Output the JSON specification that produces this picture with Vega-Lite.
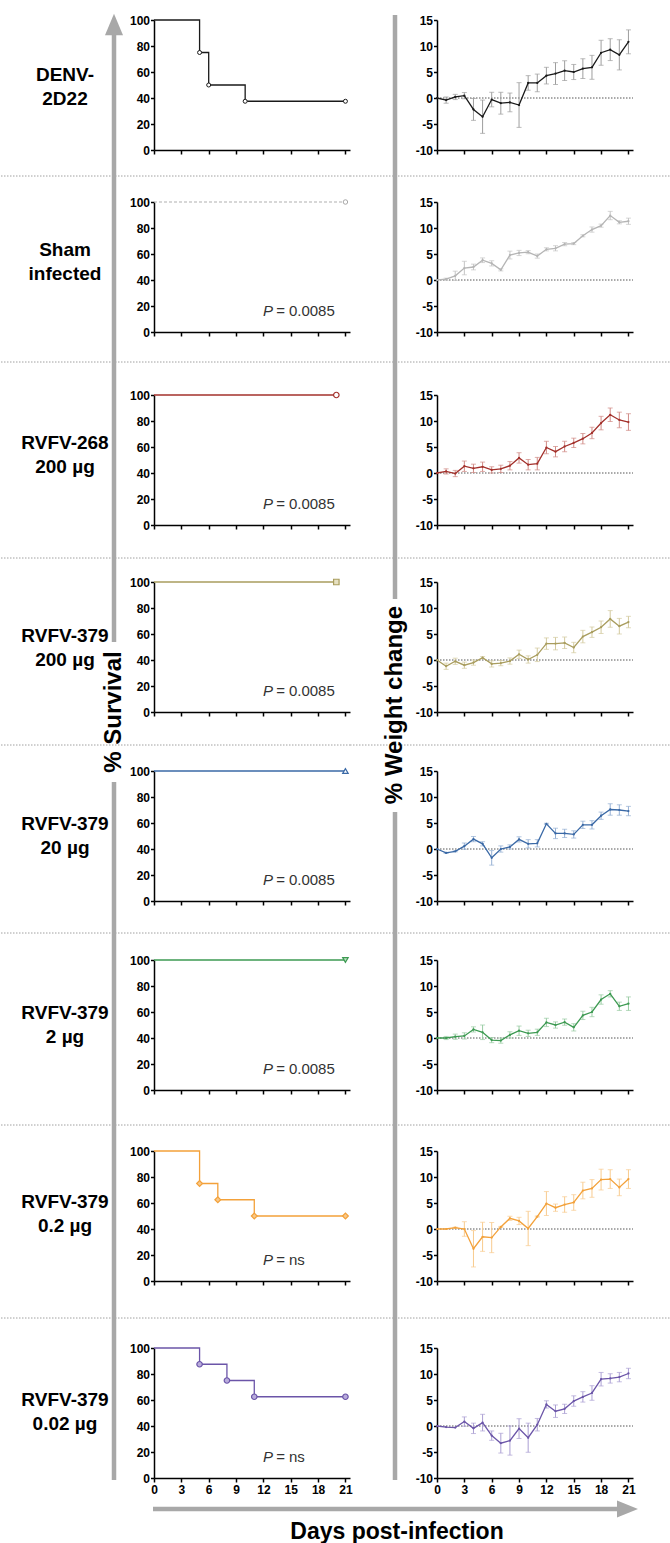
{
"$schema": "https://vega.github.io/schema/vega-lite/v6.json",
"background": "white",
"padding": {"top": 12, "left": 0, "right": 0, "bottom": 0},
"autosize": {"type": "pad"},
"bounds": "flush",
"spacing": 0,
"columns": 4,
"config": {
  "view": {"stroke": null},
  "font": "Liberation Sans",
  "axis": {"domainColor": "#000", "domainWidth": 1.5, "tickColor": "#000", "tickWidth": 1.5, "tickSize": 3.5, "labelFont": "Liberation Sans", "labelFontSize": 12, "labelFontWeight": "bold", "labelColor": "#000", "grid": false, "labelPadding": 1, "labelOverlap": false, "labelFlush": false, "labelBound": false, "tickCount": 30}
},
"datasets": {
  "labels": [{"g":1,"label":"DENV-\n2D22"},{"g":2,"label":"Sham\ninfected"},{"g":3,"label":"RVFV-268\n200 µg"},{"g":4,"label":"RVFV-379\n200 µg"},{"g":5,"label":"RVFV-379\n20 µg"},{"g":6,"label":"RVFV-379\n2 µg"},{"g":7,"label":"RVFV-379\n0.2 µg"},{"g":8,"label":"RVFV-379\n0.02 µg"}],
  "pvals": [{"g":2,"p":"0.0085"},{"g":3,"p":"0.0085"},{"g":4,"p":"0.0085"},{"g":5,"p":"0.0085"},{"g":6,"p":"0.0085"},{"g":7,"p":"ns"},{"g":8,"p":"ns"}],
  "survival": [
    {"g":1,"day":0,"pct":100},{"g":1,"day":5,"pct":75},{"g":1,"day":6,"pct":50},{"g":1,"day":10,"pct":37.5},{"g":1,"day":21,"pct":37.5},
    {"g":2,"day":0,"pct":100},{"g":2,"day":21,"pct":100},
    {"g":3,"day":0,"pct":100},{"g":3,"day":20,"pct":100},
    {"g":4,"day":0,"pct":100},{"g":4,"day":20,"pct":100},
    {"g":5,"day":0,"pct":100},{"g":5,"day":21,"pct":100},
    {"g":6,"day":0,"pct":100},{"g":6,"day":21,"pct":100},
    {"g":7,"day":0,"pct":100},{"g":7,"day":5,"pct":75},{"g":7,"day":7,"pct":62.5},{"g":7,"day":11,"pct":50},{"g":7,"day":21,"pct":50},
    {"g":8,"day":0,"pct":100},{"g":8,"day":5,"pct":87.5},{"g":8,"day":8,"pct":75},{"g":8,"day":11,"pct":62.5},{"g":8,"day":21,"pct":62.5}
  ],
  "weight": [
    {"g":1,"day":0,"mean":0,"sem":0},{"g":1,"day":1,"mean":-0.4,"sem":0.6},{"g":1,"day":2,"mean":0.2,"sem":0.5},{"g":1,"day":3,"mean":0.45,"sem":0.6},{"g":1,"day":4,"mean":-2.2,"sem":2.1},{"g":1,"day":5,"mean":-3.6,"sem":3.2},{"g":1,"day":6,"mean":-0.3,"sem":1.4},{"g":1,"day":7,"mean":-1.0,"sem":2.1},{"g":1,"day":8,"mean":-0.85,"sem":1.8},{"g":1,"day":9,"mean":-1.35,"sem":4.3},{"g":1,"day":10,"mean":2.9,"sem":1.4},{"g":1,"day":11,"mean":2.9,"sem":1.7},{"g":1,"day":12,"mean":4.3,"sem":1.6},{"g":1,"day":13,"mean":4.7,"sem":2.1},{"g":1,"day":14,"mean":5.25,"sem":1.9},{"g":1,"day":15,"mean":5.0,"sem":1.45},{"g":1,"day":16,"mean":5.65,"sem":1.9},{"g":1,"day":17,"mean":5.9,"sem":2.3},{"g":1,"day":18,"mean":8.7,"sem":2.4},{"g":1,"day":19,"mean":9.3,"sem":2.1},{"g":1,"day":20,"mean":8.3,"sem":2.9},{"g":1,"day":21,"mean":10.8,"sem":2.3},
    {"g":2,"day":0,"mean":0,"sem":0},{"g":2,"day":1,"mean":0.15,"sem":0.2},{"g":2,"day":2,"mean":0.8,"sem":0.9},{"g":2,"day":3,"mean":2.3,"sem":1.3},{"g":2,"day":4,"mean":2.5,"sem":0.55},{"g":2,"day":5,"mean":3.8,"sem":0.45},{"g":2,"day":6,"mean":3.2,"sem":0.5},{"g":2,"day":7,"mean":1.95,"sem":0.2},{"g":2,"day":8,"mean":4.8,"sem":0.75},{"g":2,"day":9,"mean":5.2,"sem":0.5},{"g":2,"day":10,"mean":5.35,"sem":0.3},{"g":2,"day":11,"mean":4.6,"sem":0.4},{"g":2,"day":12,"mean":5.9,"sem":0.3},{"g":2,"day":13,"mean":6.1,"sem":0.5},{"g":2,"day":14,"mean":6.9,"sem":0.3},{"g":2,"day":15,"mean":7.0,"sem":0.2},{"g":2,"day":16,"mean":8.5,"sem":0.2},{"g":2,"day":17,"mean":9.7,"sem":0.5},{"g":2,"day":18,"mean":10.45,"sem":0.3},{"g":2,"day":19,"mean":12.4,"sem":0.8},{"g":2,"day":20,"mean":11.1,"sem":0.3},{"g":2,"day":21,"mean":11.3,"sem":0.6},
    {"g":3,"day":0,"mean":0,"sem":0},{"g":3,"day":1,"mean":0.3,"sem":0.5},{"g":3,"day":2,"mean":-0.1,"sem":0.6},{"g":3,"day":3,"mean":1.3,"sem":1.0},{"g":3,"day":4,"mean":0.9,"sem":0.8},{"g":3,"day":5,"mean":1.2,"sem":0.9},{"g":3,"day":6,"mean":0.6,"sem":0.6},{"g":3,"day":7,"mean":0.8,"sem":0.7},{"g":3,"day":8,"mean":1.4,"sem":0.8},{"g":3,"day":9,"mean":2.9,"sem":1.0},{"g":3,"day":10,"mean":1.6,"sem":1.0},{"g":3,"day":11,"mean":1.8,"sem":1.2},{"g":3,"day":12,"mean":4.9,"sem":1.2},{"g":3,"day":13,"mean":4.1,"sem":1.0},{"g":3,"day":14,"mean":5.1,"sem":1.0},{"g":3,"day":15,"mean":5.8,"sem":0.9},{"g":3,"day":16,"mean":6.6,"sem":1.0},{"g":3,"day":17,"mean":7.7,"sem":1.1},{"g":3,"day":18,"mean":9.6,"sem":1.3},{"g":3,"day":19,"mean":11.2,"sem":1.3},{"g":3,"day":20,"mean":10.2,"sem":1.5},{"g":3,"day":21,"mean":9.8,"sem":1.6},
    {"g":4,"day":0,"mean":0,"sem":0},{"g":4,"day":1,"mean":-1.2,"sem":0.6},{"g":4,"day":2,"mean":-0.25,"sem":0.6},{"g":4,"day":3,"mean":-1.0,"sem":0.6},{"g":4,"day":4,"mean":-0.5,"sem":0.5},{"g":4,"day":5,"mean":0.45,"sem":0.2},{"g":4,"day":6,"mean":-0.75,"sem":0.6},{"g":4,"day":7,"mean":-0.6,"sem":0.5},{"g":4,"day":8,"mean":-0.2,"sem":0.6},{"g":4,"day":9,"mean":1.1,"sem":0.8},{"g":4,"day":10,"mean":0.1,"sem":0.7},{"g":4,"day":11,"mean":1.0,"sem":1.3},{"g":4,"day":12,"mean":3.15,"sem":1.1},{"g":4,"day":13,"mean":3.15,"sem":1.2},{"g":4,"day":14,"mean":3.3,"sem":1.1},{"g":4,"day":15,"mean":2.4,"sem":1.0},{"g":4,"day":16,"mean":4.5,"sem":1.2},{"g":4,"day":17,"mean":5.35,"sem":1.0},{"g":4,"day":18,"mean":6.3,"sem":1.2},{"g":4,"day":19,"mean":7.9,"sem":1.6},{"g":4,"day":20,"mean":6.5,"sem":1.5},{"g":4,"day":21,"mean":7.3,"sem":1.1},
    {"g":5,"day":0,"mean":0,"sem":0},{"g":5,"day":1,"mean":-0.75,"sem":0.1},{"g":5,"day":2,"mean":-0.45,"sem":0.1},{"g":5,"day":3,"mean":0.55,"sem":0.6},{"g":5,"day":4,"mean":1.9,"sem":0.5},{"g":5,"day":5,"mean":1.0,"sem":0.4},{"g":5,"day":6,"mean":-1.7,"sem":1.4},{"g":5,"day":7,"mean":0.0,"sem":0.6},{"g":5,"day":8,"mean":0.4,"sem":0.4},{"g":5,"day":9,"mean":1.85,"sem":0.5},{"g":5,"day":10,"mean":1.0,"sem":0.8},{"g":5,"day":11,"mean":1.1,"sem":0.7},{"g":5,"day":12,"mean":4.85,"sem":0.1},{"g":5,"day":13,"mean":3.0,"sem":1.0},{"g":5,"day":14,"mean":3.0,"sem":0.8},{"g":5,"day":15,"mean":2.8,"sem":0.7},{"g":5,"day":16,"mean":4.65,"sem":0.7},{"g":5,"day":17,"mean":4.65,"sem":0.8},{"g":5,"day":18,"mean":6.4,"sem":0.7},{"g":5,"day":19,"mean":7.6,"sem":1.1},{"g":5,"day":20,"mean":7.5,"sem":1.0},{"g":5,"day":21,"mean":7.3,"sem":0.9},
    {"g":6,"day":0,"mean":0,"sem":0},{"g":6,"day":1,"mean":0,"sem":0.3},{"g":6,"day":2,"mean":0.25,"sem":0.5},{"g":6,"day":3,"mean":0.4,"sem":0.6},{"g":6,"day":4,"mean":1.65,"sem":0.5},{"g":6,"day":5,"mean":1.1,"sem":1.4},{"g":6,"day":6,"mean":-0.4,"sem":0.5},{"g":6,"day":7,"mean":-0.5,"sem":0.5},{"g":6,"day":8,"mean":0.6,"sem":0.6},{"g":6,"day":9,"mean":1.4,"sem":0.9},{"g":6,"day":10,"mean":0.9,"sem":0.6},{"g":6,"day":11,"mean":1.1,"sem":0.6},{"g":6,"day":12,"mean":3.0,"sem":0.8},{"g":6,"day":13,"mean":2.5,"sem":0.6},{"g":6,"day":14,"mean":3.05,"sem":0.6},{"g":6,"day":15,"mean":2.05,"sem":0.7},{"g":6,"day":16,"mean":4.35,"sem":0.8},{"g":6,"day":17,"mean":5.0,"sem":0.9},{"g":6,"day":18,"mean":7.4,"sem":0.9},{"g":6,"day":19,"mean":8.5,"sem":0.6},{"g":6,"day":20,"mean":6.1,"sem":0.8},{"g":6,"day":21,"mean":6.6,"sem":1.3},
    {"g":7,"day":0,"mean":0,"sem":0},{"g":7,"day":1,"mean":0,"sem":0},{"g":7,"day":2,"mean":0.25,"sem":0.1},{"g":7,"day":3,"mean":0.0,"sem":1.4},{"g":7,"day":4,"mean":-3.8,"sem":3.5},{"g":7,"day":5,"mean":-1.5,"sem":2.8},{"g":7,"day":6,"mean":-1.65,"sem":2.9},{"g":7,"day":7,"mean":0.4,"sem":0.1},{"g":7,"day":8,"mean":2.05,"sem":0.4},{"g":7,"day":9,"mean":1.55,"sem":0.7},{"g":7,"day":10,"mean":0.1,"sem":3.3},{"g":7,"day":11,"mean":2.4,"sem":0.1},{"g":7,"day":12,"mean":4.9,"sem":2.3},{"g":7,"day":13,"mean":4.1,"sem":0.7},{"g":7,"day":14,"mean":4.7,"sem":1.5},{"g":7,"day":15,"mean":5.1,"sem":1.5},{"g":7,"day":16,"mean":7.4,"sem":1.6},{"g":7,"day":17,"mean":7.8,"sem":1.7},{"g":7,"day":18,"mean":9.5,"sem":2.0},{"g":7,"day":19,"mean":9.6,"sem":1.8},{"g":7,"day":20,"mean":8.0,"sem":1.6},{"g":7,"day":21,"mean":9.6,"sem":1.8},
    {"g":8,"day":0,"mean":0,"sem":0},{"g":8,"day":1,"mean":-0.2,"sem":0},{"g":8,"day":2,"mean":-0.3,"sem":0},{"g":8,"day":3,"mean":0.85,"sem":0.9},{"g":8,"day":4,"mean":-0.45,"sem":1.0},{"g":8,"day":5,"mean":0.65,"sem":1.6},{"g":8,"day":6,"mean":-1.85,"sem":0.9},{"g":8,"day":7,"mean":-3.3,"sem":1.9},{"g":8,"day":8,"mean":-2.8,"sem":2.8},{"g":8,"day":9,"mean":-0.5,"sem":1.9},{"g":8,"day":10,"mean":-2.25,"sem":2.8},{"g":8,"day":11,"mean":0.25,"sem":1.2},{"g":8,"day":12,"mean":4.15,"sem":0.7},{"g":8,"day":13,"mean":2.85,"sem":1.2},{"g":8,"day":14,"mean":3.3,"sem":0.9},{"g":8,"day":15,"mean":4.8,"sem":1.0},{"g":8,"day":16,"mean":5.6,"sem":1.0},{"g":8,"day":17,"mean":6.35,"sem":1.4},{"g":8,"day":18,"mean":9.0,"sem":1.3},{"g":8,"day":19,"mean":9.15,"sem":0.9},{"g":8,"day":20,"mean":9.4,"sem":0.9},{"g":8,"day":21,"mean":10.1,"sem":1.0}
  ]
},
"concat": [
{"width":153,"height":182,"layer":[
 {"data":{"values":[{}]},"mark":{"type":"rule","color":"#a0a0a0","strokeWidth":1,"strokeDash":[1.5,1.5]},"encoding":{"x":{"datum":0,"type":"quantitative","scale":{"domain":[0,153]},"axis":null},"x2":{"datum":349},"y":{"datum":156,"type":"quantitative","scale":{"domain":[0,182],"reverse":true},"axis":null}}},
 {"data":{"values":[{}]},"mark":{"type":"rule","color":"#a8a8a8","strokeWidth":4.5},"encoding":{"x":{"datum":113,"type":"quantitative","scale":{"domain":[0,153]},"axis":null},"y":{"datum":10,"type":"quantitative","scale":{"domain":[0,182],"reverse":true},"axis":null},"y2":{"datum":182}}},
 {"data":{"values":[{}]},"mark":{"type":"point","shape":"M0,-1L0.84,1L-0.84,1Z","size":462,"filled":true,"color":"#a8a8a8","opacity":1,"strokeWidth":0},"encoding":{"x":{"datum":113,"type":"quantitative","scale":{"domain":[0,153]},"axis":null},"y":{"datum":4.5,"type":"quantitative","scale":{"domain":[0,182],"reverse":true},"axis":null}}},
 {"data":{"name":"labels"},"transform":[{"filter":"datum.g == 1"}],"mark":{"type":"text","fontSize":19,"fontWeight":"bold","lineBreak":"\n","lineHeight":24,"align":"center","baseline":"middle","color":"#000"},"encoding":{"x":{"datum":64,"type":"quantitative","scale":{"domain":[0,153]},"axis":null},"y":{"datum":55,"type":"quantitative","scale":{"domain":[0,182],"reverse":true},"axis":null},"text":{"field":"label","type":"nominal"}}}
]},
{"width":196,"height":130,"layer":[
 {"data":{"name":"survival"},"transform":[{"filter":"datum.g == 1"}],"mark":{"type":"line","interpolate":"step-after","color":"#1a1a1a","strokeWidth":1.3},"encoding":{"x":{"field":"day","type":"quantitative","scale":{"domain":[0,21.5]},"axis":{"title":null,"values":[0,3,6,9,12,15,18,21],"tickCount":30,"labels":false,"tickSize":4,"labelOverlap":false}},"y":{"field":"pct","type":"quantitative","scale":{"domain":[0,100]},"axis":{"title":null,"values":[0,20,40,60,80,100],"tickCount":30,"labelOverlap":false}}}},
 {"data":{"name":"survival"},"transform":[{"filter":"datum.g == 1 && datum.day > 0"}],"mark":{"type":"point","shape":"circle","filled":true,"fill":"#ffffff","stroke":"#1a1a1a","strokeWidth":1,"size":16,"opacity":1},"encoding":{"x":{"field":"day","type":"quantitative","title":null,"scale":{"domain":[0,21.5]}},"y":{"field":"pct","type":"quantitative","title":null,"scale":{"domain":[0,100]}}}}
]},
{"width":87,"height":182,"layer":[
 {"data":{"values":[{}]},"mark":{"type":"rule","color":"#a0a0a0","strokeWidth":1,"strokeDash":[1.5,1.5]},"encoding":{"x":{"datum":0,"type":"quantitative","scale":{"domain":[0,87]},"axis":null},"x2":{"datum":321},"y":{"datum":156,"type":"quantitative","scale":{"domain":[0,182],"reverse":true},"axis":null}}},
 {"data":{"values":[{}]},"mark":{"type":"rule","color":"#a8a8a8","strokeWidth":4.5},"encoding":{"x":{"datum":45,"type":"quantitative","scale":{"domain":[0,87]},"axis":null},"y":{"datum":-5,"type":"quantitative","scale":{"domain":[0,182],"reverse":true},"axis":null},"y2":{"datum":182}}}
]},
{"width":196,"height":130,"layer":[
 {"data":{"values":[{}]},"mark":{"type":"rule","color":"#555555","strokeWidth":1,"strokeDash":[1.5,1.5]},"encoding":{"x":{"datum":0,"type":"quantitative","scale":{"domain":[0,21.5]},"axis":{"title":null,"values":[0,3,6,9,12,15,18,21],"tickCount":30,"labels":false,"tickSize":4,"labelOverlap":false}},"x2":{"datum":21.5},"y":{"datum":0,"type":"quantitative","scale":{"domain":[-10,15]},"axis":{"title":null,"values":[-10,-5,0,5,10,15],"tickCount":30,"labelExpr":"'' + datum.value","labelOverlap":false}}}},
 {"data":{"name":"weight"},"transform":[{"filter":"datum.g == 1 && datum.sem > 0"}],"mark":{"type":"errorbar","color":"#9e9e9e","thickness":1,"ticks":{"size":5,"color":"#9e9e9e"}},"encoding":{"x":{"field":"day","type":"quantitative","title":null,"scale":{"domain":[0,21.5]}},"y":{"field":"mean","type":"quantitative","title":null,"scale":{"domain":[-10,15]}},"yError":{"field":"sem"}}},
 {"data":{"name":"weight"},"transform":[{"filter":"datum.g == 1"}],"mark":{"type":"line","color":"#1a1a1a","strokeWidth":1.3,"point":{"filled":true,"size":5,"color":"#1a1a1a","opacity":1}},"encoding":{"x":{"field":"day","type":"quantitative","title":null,"scale":{"domain":[0,21.5]}},"y":{"field":"mean","type":"quantitative","title":null,"scale":{"domain":[-10,15]}}}}
]},

{"width":153,"height":193,"layer":[
 {"data":{"values":[{}]},"mark":{"type":"rule","color":"#a0a0a0","strokeWidth":1,"strokeDash":[1.5,1.5]},"encoding":{"x":{"datum":0,"type":"quantitative","scale":{"domain":[0,153]},"axis":null},"x2":{"datum":349},"y":{"datum":160,"type":"quantitative","scale":{"domain":[0,193],"reverse":true},"axis":null}}},
 {"data":{"values":[{}]},"mark":{"type":"rule","color":"#a8a8a8","strokeWidth":4.5},"encoding":{"x":{"datum":113,"type":"quantitative","scale":{"domain":[0,153]},"axis":null},"y":{"datum":0,"type":"quantitative","scale":{"domain":[0,193],"reverse":true},"axis":null},"y2":{"datum":193}}},
 {"data":{"name":"labels"},"transform":[{"filter":"datum.g == 2"}],"mark":{"type":"text","fontSize":19,"fontWeight":"bold","lineBreak":"\n","lineHeight":24,"align":"center","baseline":"middle","color":"#000"},"encoding":{"x":{"datum":64,"type":"quantitative","scale":{"domain":[0,153]},"axis":null},"y":{"datum":48,"type":"quantitative","scale":{"domain":[0,193],"reverse":true},"axis":null},"text":{"field":"label","type":"nominal"}}}
]},
{"width":196,"height":130,"layer":[
 {"data":{"name":"survival"},"transform":[{"filter":"datum.g == 2"}],"mark":{"type":"line","interpolate":"step-after","color":"#b0b0b0","strokeWidth":1.2,"strokeDash":[3,2]},"encoding":{"x":{"field":"day","type":"quantitative","scale":{"domain":[0,21.5]},"axis":{"title":null,"values":[0,3,6,9,12,15,18,21],"tickCount":30,"labels":false,"tickSize":4,"labelOverlap":false}},"y":{"field":"pct","type":"quantitative","scale":{"domain":[0,100]},"axis":{"title":null,"values":[0,20,40,60,80,100],"tickCount":30,"labelOverlap":false}}}},
 {"data":{"name":"survival"},"transform":[{"filter":"datum.g == 2 && datum.day > 0"}],"mark":{"type":"point","shape":"circle","filled":true,"fill":"#ffffff","stroke":"#a8a8a8","strokeWidth":1,"size":20,"opacity":1},"encoding":{"x":{"field":"day","type":"quantitative","title":null,"scale":{"domain":[0,21.5]}},"y":{"field":"pct","type":"quantitative","title":null,"scale":{"domain":[0,100]}}}},
 {"data":{"name":"pvals"},"transform":[{"filter":"datum.g == 2"}],"mark":{"type":"text","text":"P","fontStyle":"italic","fontSize":15,"align":"right","baseline":"middle","color":"#333333"},"encoding":{"x":{"datum":13.05,"type":"quantitative","scale":{"domain":[0,21.5]}},"y":{"datum":16,"type":"quantitative","scale":{"domain":[0,100]}}}},
 {"data":{"name":"pvals"},"transform":[{"filter":"datum.g == 2"}],"mark":{"type":"text","text":"=","fontSize":15,"align":"left","baseline":"middle","color":"#333333"},"encoding":{"x":{"datum":13.4,"type":"quantitative","scale":{"domain":[0,21.5]}},"y":{"datum":16,"type":"quantitative","scale":{"domain":[0,100]}}}},
 {"data":{"name":"pvals"},"transform":[{"filter":"datum.g == 2"}],"mark":{"type":"text","fontSize":15,"align":"left","baseline":"middle","color":"#333333"},"encoding":{"x":{"datum":14.8,"type":"quantitative","scale":{"domain":[0,21.5]}},"y":{"datum":16,"type":"quantitative","scale":{"domain":[0,100]}},"text":{"field":"p","type":"nominal"}}}
]},
{"width":87,"height":193,"layer":[
 {"data":{"values":[{}]},"mark":{"type":"rule","color":"#a0a0a0","strokeWidth":1,"strokeDash":[1.5,1.5]},"encoding":{"x":{"datum":0,"type":"quantitative","scale":{"domain":[0,87]},"axis":null},"x2":{"datum":321},"y":{"datum":160,"type":"quantitative","scale":{"domain":[0,193],"reverse":true},"axis":null}}},
 {"data":{"values":[{}]},"mark":{"type":"rule","color":"#a8a8a8","strokeWidth":4.5},"encoding":{"x":{"datum":45,"type":"quantitative","scale":{"domain":[0,87]},"axis":null},"y":{"datum":0,"type":"quantitative","scale":{"domain":[0,193],"reverse":true},"axis":null},"y2":{"datum":193}}}
]},
{"width":196,"height":130,"layer":[
 {"data":{"values":[{}]},"mark":{"type":"rule","color":"#555555","strokeWidth":1,"strokeDash":[1.5,1.5]},"encoding":{"x":{"datum":0,"type":"quantitative","scale":{"domain":[0,21.5]},"axis":{"title":null,"values":[0,3,6,9,12,15,18,21],"tickCount":30,"labels":false,"tickSize":4,"labelOverlap":false}},"x2":{"datum":21.5},"y":{"datum":0,"type":"quantitative","scale":{"domain":[-10,15]},"axis":{"title":null,"values":[-10,-5,0,5,10,15],"tickCount":30,"labelExpr":"'' + datum.value","labelOverlap":false}}}},
 {"data":{"name":"weight"},"transform":[{"filter":"datum.g == 2 && datum.sem > 0"}],"mark":{"type":"errorbar","color":"#c4c4c4","thickness":1,"ticks":{"size":5,"color":"#c4c4c4"}},"encoding":{"x":{"field":"day","type":"quantitative","title":null,"scale":{"domain":[0,21.5]}},"y":{"field":"mean","type":"quantitative","title":null,"scale":{"domain":[-10,15]}},"yError":{"field":"sem"}}},
 {"data":{"name":"weight"},"transform":[{"filter":"datum.g == 2"}],"mark":{"type":"line","color":"#b5b5b5","strokeWidth":1.3,"point":{"filled":true,"size":5,"color":"#b5b5b5","opacity":1}},"encoding":{"x":{"field":"day","type":"quantitative","title":null,"scale":{"domain":[0,21.5]}},"y":{"field":"mean","type":"quantitative","title":null,"scale":{"domain":[-10,15]}}}}
]},

{"width":153,"height":187,"layer":[
 {"data":{"values":[{}]},"mark":{"type":"rule","color":"#a0a0a0","strokeWidth":1,"strokeDash":[1.5,1.5]},"encoding":{"x":{"datum":0,"type":"quantitative","scale":{"domain":[0,153]},"axis":null},"x2":{"datum":349},"y":{"datum":163,"type":"quantitative","scale":{"domain":[0,187],"reverse":true},"axis":null}}},
 {"data":{"values":[{}]},"mark":{"type":"rule","color":"#a8a8a8","strokeWidth":4.5},"encoding":{"x":{"datum":113,"type":"quantitative","scale":{"domain":[0,153]},"axis":null},"y":{"datum":0,"type":"quantitative","scale":{"domain":[0,187],"reverse":true},"axis":null},"y2":{"datum":187}}},
 {"data":{"name":"labels"},"transform":[{"filter":"datum.g == 3"}],"mark":{"type":"text","fontSize":19,"fontWeight":"bold","lineBreak":"\n","lineHeight":24,"align":"center","baseline":"middle","color":"#000"},"encoding":{"x":{"datum":64,"type":"quantitative","scale":{"domain":[0,153]},"axis":null},"y":{"datum":48,"type":"quantitative","scale":{"domain":[0,187],"reverse":true},"axis":null},"text":{"field":"label","type":"nominal"}}}
]},
{"width":196,"height":130,"layer":[
 {"data":{"name":"survival"},"transform":[{"filter":"datum.g == 3"}],"mark":{"type":"line","interpolate":"step-after","color":"#a3302b","strokeWidth":1.3},"encoding":{"x":{"field":"day","type":"quantitative","scale":{"domain":[0,21.5]},"axis":{"title":null,"values":[0,3,6,9,12,15,18,21],"tickCount":30,"labels":false,"tickSize":4,"labelOverlap":false}},"y":{"field":"pct","type":"quantitative","scale":{"domain":[0,100]},"axis":{"title":null,"values":[0,20,40,60,80,100],"tickCount":30,"labelOverlap":false}}}},
 {"data":{"name":"survival"},"transform":[{"filter":"datum.g == 3 && datum.day > 0"}],"mark":{"type":"point","shape":"circle","filled":true,"fill":"#ffffff","stroke":"#a3302b","strokeWidth":1.2,"size":30,"opacity":1},"encoding":{"x":{"field":"day","type":"quantitative","title":null,"scale":{"domain":[0,21.5]}},"y":{"field":"pct","type":"quantitative","title":null,"scale":{"domain":[0,100]}}}},
 {"data":{"name":"pvals"},"transform":[{"filter":"datum.g == 3"}],"mark":{"type":"text","text":"P","fontStyle":"italic","fontSize":15,"align":"right","baseline":"middle","color":"#333333"},"encoding":{"x":{"datum":13.05,"type":"quantitative","scale":{"domain":[0,21.5]}},"y":{"datum":16,"type":"quantitative","scale":{"domain":[0,100]}}}},
 {"data":{"name":"pvals"},"transform":[{"filter":"datum.g == 3"}],"mark":{"type":"text","text":"=","fontSize":15,"align":"left","baseline":"middle","color":"#333333"},"encoding":{"x":{"datum":13.4,"type":"quantitative","scale":{"domain":[0,21.5]}},"y":{"datum":16,"type":"quantitative","scale":{"domain":[0,100]}}}},
 {"data":{"name":"pvals"},"transform":[{"filter":"datum.g == 3"}],"mark":{"type":"text","fontSize":15,"align":"left","baseline":"middle","color":"#333333"},"encoding":{"x":{"datum":14.8,"type":"quantitative","scale":{"domain":[0,21.5]}},"y":{"datum":16,"type":"quantitative","scale":{"domain":[0,100]}},"text":{"field":"p","type":"nominal"}}}
]},
{"width":87,"height":187,"layer":[
 {"data":{"values":[{}]},"mark":{"type":"rule","color":"#a0a0a0","strokeWidth":1,"strokeDash":[1.5,1.5]},"encoding":{"x":{"datum":0,"type":"quantitative","scale":{"domain":[0,87]},"axis":null},"x2":{"datum":321},"y":{"datum":163,"type":"quantitative","scale":{"domain":[0,187],"reverse":true},"axis":null}}},
 {"data":{"values":[{}]},"mark":{"type":"rule","color":"#a8a8a8","strokeWidth":4.5},"encoding":{"x":{"datum":45,"type":"quantitative","scale":{"domain":[0,87]},"axis":null},"y":{"datum":0,"type":"quantitative","scale":{"domain":[0,187],"reverse":true},"axis":null},"y2":{"datum":187}}}
]},
{"width":196,"height":130,"layer":[
 {"data":{"values":[{}]},"mark":{"type":"rule","color":"#555555","strokeWidth":1,"strokeDash":[1.5,1.5]},"encoding":{"x":{"datum":0,"type":"quantitative","scale":{"domain":[0,21.5]},"axis":{"title":null,"values":[0,3,6,9,12,15,18,21],"tickCount":30,"labels":false,"tickSize":4,"labelOverlap":false}},"x2":{"datum":21.5},"y":{"datum":0,"type":"quantitative","scale":{"domain":[-10,15]},"axis":{"title":null,"values":[-10,-5,0,5,10,15],"tickCount":30,"labelExpr":"'' + datum.value","labelOverlap":false}}}},
 {"data":{"name":"weight"},"transform":[{"filter":"datum.g == 3 && datum.sem > 0"}],"mark":{"type":"errorbar","color":"#d08a85","thickness":1,"ticks":{"size":5,"color":"#d08a85"}},"encoding":{"x":{"field":"day","type":"quantitative","title":null,"scale":{"domain":[0,21.5]}},"y":{"field":"mean","type":"quantitative","title":null,"scale":{"domain":[-10,15]}},"yError":{"field":"sem"}}},
 {"data":{"name":"weight"},"transform":[{"filter":"datum.g == 3"}],"mark":{"type":"line","color":"#a3302b","strokeWidth":1.3,"point":{"filled":true,"size":5,"color":"#a3302b","opacity":1}},"encoding":{"x":{"field":"day","type":"quantitative","title":null,"scale":{"domain":[0,21.5]}},"y":{"field":"mean","type":"quantitative","title":null,"scale":{"domain":[-10,15]}}}}
]},

{"width":153,"height":189,"layer":[
 {"data":{"values":[{}]},"mark":{"type":"rule","color":"#a0a0a0","strokeWidth":1,"strokeDash":[1.5,1.5]},"encoding":{"x":{"datum":0,"type":"quantitative","scale":{"domain":[0,153]},"axis":null},"x2":{"datum":349},"y":{"datum":163,"type":"quantitative","scale":{"domain":[0,189],"reverse":true},"axis":null}}},
 {"data":{"values":[{}]},"mark":{"type":"rule","color":"#a8a8a8","strokeWidth":4.5},"encoding":{"x":{"datum":113,"type":"quantitative","scale":{"domain":[0,153]},"axis":null},"y":{"datum":0,"type":"quantitative","scale":{"domain":[0,189],"reverse":true},"axis":null},"y2":{"datum":60}}},
 {"data":{"values":[{}]},"mark":{"type":"text","text":"% Survival","fontSize":24,"fontWeight":"bold","angle":270,"align":"center","baseline":"middle","color":"#000"},"encoding":{"x":{"datum":113,"type":"quantitative","scale":{"domain":[0,153]},"axis":null},"y":{"datum":130,"type":"quantitative","scale":{"domain":[0,189],"reverse":true},"axis":null}}},
 {"data":{"name":"labels"},"transform":[{"filter":"datum.g == 4"}],"mark":{"type":"text","fontSize":19,"fontWeight":"bold","lineBreak":"\n","lineHeight":24,"align":"center","baseline":"middle","color":"#000"},"encoding":{"x":{"datum":64,"type":"quantitative","scale":{"domain":[0,153]},"axis":null},"y":{"datum":54,"type":"quantitative","scale":{"domain":[0,189],"reverse":true},"axis":null},"text":{"field":"label","type":"nominal"}}}
]},
{"width":196,"height":130,"layer":[
 {"data":{"name":"survival"},"transform":[{"filter":"datum.g == 4"}],"mark":{"type":"line","interpolate":"step-after","color":"#a99d5e","strokeWidth":1.3},"encoding":{"x":{"field":"day","type":"quantitative","scale":{"domain":[0,21.5]},"axis":{"title":null,"values":[0,3,6,9,12,15,18,21],"tickCount":30,"labels":false,"tickSize":4,"labelOverlap":false}},"y":{"field":"pct","type":"quantitative","scale":{"domain":[0,100]},"axis":{"title":null,"values":[0,20,40,60,80,100],"tickCount":30,"labelOverlap":false}}}},
 {"data":{"name":"survival"},"transform":[{"filter":"datum.g == 4 && datum.day > 0"}],"mark":{"type":"point","shape":"square","filled":true,"fill":"#e6e0c2","stroke":"#a99d5e","strokeWidth":1.2,"size":30,"opacity":1},"encoding":{"x":{"field":"day","type":"quantitative","title":null,"scale":{"domain":[0,21.5]}},"y":{"field":"pct","type":"quantitative","title":null,"scale":{"domain":[0,100]}}}},
 {"data":{"name":"pvals"},"transform":[{"filter":"datum.g == 4"}],"mark":{"type":"text","text":"P","fontStyle":"italic","fontSize":15,"align":"right","baseline":"middle","color":"#333333"},"encoding":{"x":{"datum":13.05,"type":"quantitative","scale":{"domain":[0,21.5]}},"y":{"datum":16,"type":"quantitative","scale":{"domain":[0,100]}}}},
 {"data":{"name":"pvals"},"transform":[{"filter":"datum.g == 4"}],"mark":{"type":"text","text":"=","fontSize":15,"align":"left","baseline":"middle","color":"#333333"},"encoding":{"x":{"datum":13.4,"type":"quantitative","scale":{"domain":[0,21.5]}},"y":{"datum":16,"type":"quantitative","scale":{"domain":[0,100]}}}},
 {"data":{"name":"pvals"},"transform":[{"filter":"datum.g == 4"}],"mark":{"type":"text","fontSize":15,"align":"left","baseline":"middle","color":"#333333"},"encoding":{"x":{"datum":14.8,"type":"quantitative","scale":{"domain":[0,21.5]}},"y":{"datum":16,"type":"quantitative","scale":{"domain":[0,100]}},"text":{"field":"p","type":"nominal"}}}
]},
{"width":87,"height":189,"layer":[
 {"data":{"values":[{}]},"mark":{"type":"rule","color":"#a0a0a0","strokeWidth":1,"strokeDash":[1.5,1.5]},"encoding":{"x":{"datum":0,"type":"quantitative","scale":{"domain":[0,87]},"axis":null},"x2":{"datum":321},"y":{"datum":163,"type":"quantitative","scale":{"domain":[0,189],"reverse":true},"axis":null}}},
 {"data":{"values":[{}]},"mark":{"type":"rule","color":"#a8a8a8","strokeWidth":4.5},"encoding":{"x":{"datum":45,"type":"quantitative","scale":{"domain":[0,87]},"axis":null},"y":{"datum":0,"type":"quantitative","scale":{"domain":[0,189],"reverse":true},"axis":null},"y2":{"datum":17}}},
 {"data":{"values":[{}]},"mark":{"type":"text","text":"% Weight change","fontSize":24,"fontWeight":"bold","angle":270,"align":"center","baseline":"middle","color":"#000"},"encoding":{"x":{"datum":45,"type":"quantitative","scale":{"domain":[0,87]},"axis":null},"y":{"datum":123,"type":"quantitative","scale":{"domain":[0,189],"reverse":true},"axis":null}}}
]},
{"width":196,"height":130,"layer":[
 {"data":{"values":[{}]},"mark":{"type":"rule","color":"#555555","strokeWidth":1,"strokeDash":[1.5,1.5]},"encoding":{"x":{"datum":0,"type":"quantitative","scale":{"domain":[0,21.5]},"axis":{"title":null,"values":[0,3,6,9,12,15,18,21],"tickCount":30,"labels":false,"tickSize":4,"labelOverlap":false}},"x2":{"datum":21.5},"y":{"datum":0,"type":"quantitative","scale":{"domain":[-10,15]},"axis":{"title":null,"values":[-10,-5,0,5,10,15],"tickCount":30,"labelExpr":"'' + datum.value","labelOverlap":false}}}},
 {"data":{"name":"weight"},"transform":[{"filter":"datum.g == 4 && datum.sem > 0"}],"mark":{"type":"errorbar","color":"#d3ca9f","thickness":1,"ticks":{"size":5,"color":"#d3ca9f"}},"encoding":{"x":{"field":"day","type":"quantitative","title":null,"scale":{"domain":[0,21.5]}},"y":{"field":"mean","type":"quantitative","title":null,"scale":{"domain":[-10,15]}},"yError":{"field":"sem"}}},
 {"data":{"name":"weight"},"transform":[{"filter":"datum.g == 4"}],"mark":{"type":"line","color":"#a99d5e","strokeWidth":1.3,"point":{"filled":true,"size":5,"color":"#a99d5e","opacity":1}},"encoding":{"x":{"field":"day","type":"quantitative","title":null,"scale":{"domain":[0,21.5]}},"y":{"field":"mean","type":"quantitative","title":null,"scale":{"domain":[-10,15]}}}}
]},

{"width":153,"height":189,"layer":[
 {"data":{"values":[{}]},"mark":{"type":"rule","color":"#a0a0a0","strokeWidth":1,"strokeDash":[1.5,1.5]},"encoding":{"x":{"datum":0,"type":"quantitative","scale":{"domain":[0,153]},"axis":null},"x2":{"datum":349},"y":{"datum":162,"type":"quantitative","scale":{"domain":[0,189],"reverse":true},"axis":null}}},
 {"data":{"values":[{}]},"mark":{"type":"rule","color":"#a8a8a8","strokeWidth":4.5},"encoding":{"x":{"datum":113,"type":"quantitative","scale":{"domain":[0,153]},"axis":null},"y":{"datum":11,"type":"quantitative","scale":{"domain":[0,189],"reverse":true},"axis":null},"y2":{"datum":189}}},
 {"data":{"name":"labels"},"transform":[{"filter":"datum.g == 5"}],"mark":{"type":"text","fontSize":19,"fontWeight":"bold","lineBreak":"\n","lineHeight":24,"align":"center","baseline":"middle","color":"#000"},"encoding":{"x":{"datum":64,"type":"quantitative","scale":{"domain":[0,153]},"axis":null},"y":{"datum":53,"type":"quantitative","scale":{"domain":[0,189],"reverse":true},"axis":null},"text":{"field":"label","type":"nominal"}}}
]},
{"width":196,"height":130,"layer":[
 {"data":{"name":"survival"},"transform":[{"filter":"datum.g == 5"}],"mark":{"type":"line","interpolate":"step-after","color":"#3a69a6","strokeWidth":1.3},"encoding":{"x":{"field":"day","type":"quantitative","scale":{"domain":[0,21.5]},"axis":{"title":null,"values":[0,3,6,9,12,15,18,21],"tickCount":30,"labels":false,"tickSize":4,"labelOverlap":false}},"y":{"field":"pct","type":"quantitative","scale":{"domain":[0,100]},"axis":{"title":null,"values":[0,20,40,60,80,100],"tickCount":30,"labelOverlap":false}}}},
 {"data":{"name":"survival"},"transform":[{"filter":"datum.g == 5 && datum.day > 0"}],"mark":{"type":"point","shape":"triangle-up","filled":true,"fill":"#ffffff","stroke":"#3a69a6","strokeWidth":1.2,"size":30,"opacity":1},"encoding":{"x":{"field":"day","type":"quantitative","title":null,"scale":{"domain":[0,21.5]}},"y":{"field":"pct","type":"quantitative","title":null,"scale":{"domain":[0,100]}}}},
 {"data":{"name":"pvals"},"transform":[{"filter":"datum.g == 5"}],"mark":{"type":"text","text":"P","fontStyle":"italic","fontSize":15,"align":"right","baseline":"middle","color":"#333333"},"encoding":{"x":{"datum":13.05,"type":"quantitative","scale":{"domain":[0,21.5]}},"y":{"datum":16,"type":"quantitative","scale":{"domain":[0,100]}}}},
 {"data":{"name":"pvals"},"transform":[{"filter":"datum.g == 5"}],"mark":{"type":"text","text":"=","fontSize":15,"align":"left","baseline":"middle","color":"#333333"},"encoding":{"x":{"datum":13.4,"type":"quantitative","scale":{"domain":[0,21.5]}},"y":{"datum":16,"type":"quantitative","scale":{"domain":[0,100]}}}},
 {"data":{"name":"pvals"},"transform":[{"filter":"datum.g == 5"}],"mark":{"type":"text","fontSize":15,"align":"left","baseline":"middle","color":"#333333"},"encoding":{"x":{"datum":14.8,"type":"quantitative","scale":{"domain":[0,21.5]}},"y":{"datum":16,"type":"quantitative","scale":{"domain":[0,100]}},"text":{"field":"p","type":"nominal"}}}
]},
{"width":87,"height":189,"layer":[
 {"data":{"values":[{}]},"mark":{"type":"rule","color":"#a0a0a0","strokeWidth":1,"strokeDash":[1.5,1.5]},"encoding":{"x":{"datum":0,"type":"quantitative","scale":{"domain":[0,87]},"axis":null},"x2":{"datum":321},"y":{"datum":162,"type":"quantitative","scale":{"domain":[0,189],"reverse":true},"axis":null}}},
 {"data":{"values":[{}]},"mark":{"type":"rule","color":"#a8a8a8","strokeWidth":4.5},"encoding":{"x":{"datum":45,"type":"quantitative","scale":{"domain":[0,87]},"axis":null},"y":{"datum":41,"type":"quantitative","scale":{"domain":[0,189],"reverse":true},"axis":null},"y2":{"datum":189}}}
]},
{"width":196,"height":130,"layer":[
 {"data":{"values":[{}]},"mark":{"type":"rule","color":"#555555","strokeWidth":1,"strokeDash":[1.5,1.5]},"encoding":{"x":{"datum":0,"type":"quantitative","scale":{"domain":[0,21.5]},"axis":{"title":null,"values":[0,3,6,9,12,15,18,21],"tickCount":30,"labels":false,"tickSize":4,"labelOverlap":false}},"x2":{"datum":21.5},"y":{"datum":0,"type":"quantitative","scale":{"domain":[-10,15]},"axis":{"title":null,"values":[-10,-5,0,5,10,15],"tickCount":30,"labelExpr":"'' + datum.value","labelOverlap":false}}}},
 {"data":{"name":"weight"},"transform":[{"filter":"datum.g == 5 && datum.sem > 0"}],"mark":{"type":"errorbar","color":"#94afd3","thickness":1,"ticks":{"size":5,"color":"#94afd3"}},"encoding":{"x":{"field":"day","type":"quantitative","title":null,"scale":{"domain":[0,21.5]}},"y":{"field":"mean","type":"quantitative","title":null,"scale":{"domain":[-10,15]}},"yError":{"field":"sem"}}},
 {"data":{"name":"weight"},"transform":[{"filter":"datum.g == 5"}],"mark":{"type":"line","color":"#3a69a6","strokeWidth":1.3,"point":{"filled":true,"size":5,"color":"#3a69a6","opacity":1}},"encoding":{"x":{"field":"day","type":"quantitative","title":null,"scale":{"domain":[0,21.5]}},"y":{"field":"mean","type":"quantitative","title":null,"scale":{"domain":[-10,15]}}}}
]},

{"width":153,"height":191,"layer":[
 {"data":{"values":[{}]},"mark":{"type":"rule","color":"#a0a0a0","strokeWidth":1,"strokeDash":[1.5,1.5]},"encoding":{"x":{"datum":0,"type":"quantitative","scale":{"domain":[0,153]},"axis":null},"x2":{"datum":349},"y":{"datum":165,"type":"quantitative","scale":{"domain":[0,191],"reverse":true},"axis":null}}},
 {"data":{"values":[{}]},"mark":{"type":"rule","color":"#a8a8a8","strokeWidth":4.5},"encoding":{"x":{"datum":113,"type":"quantitative","scale":{"domain":[0,153]},"axis":null},"y":{"datum":0,"type":"quantitative","scale":{"domain":[0,191],"reverse":true},"axis":null},"y2":{"datum":191}}},
 {"data":{"name":"labels"},"transform":[{"filter":"datum.g == 6"}],"mark":{"type":"text","fontSize":19,"fontWeight":"bold","lineBreak":"\n","lineHeight":24,"align":"center","baseline":"middle","color":"#000"},"encoding":{"x":{"datum":64,"type":"quantitative","scale":{"domain":[0,153]},"axis":null},"y":{"datum":53,"type":"quantitative","scale":{"domain":[0,191],"reverse":true},"axis":null},"text":{"field":"label","type":"nominal"}}}
]},
{"width":196,"height":130,"layer":[
 {"data":{"name":"survival"},"transform":[{"filter":"datum.g == 6"}],"mark":{"type":"line","interpolate":"step-after","color":"#3d9a52","strokeWidth":1.3},"encoding":{"x":{"field":"day","type":"quantitative","scale":{"domain":[0,21.5]},"axis":{"title":null,"values":[0,3,6,9,12,15,18,21],"tickCount":30,"labels":false,"tickSize":4,"labelOverlap":false}},"y":{"field":"pct","type":"quantitative","scale":{"domain":[0,100]},"axis":{"title":null,"values":[0,20,40,60,80,100],"tickCount":30,"labelOverlap":false}}}},
 {"data":{"name":"survival"},"transform":[{"filter":"datum.g == 6 && datum.day > 0"}],"mark":{"type":"point","shape":"triangle-down","filled":true,"fill":"#bfe0c5","stroke":"#3d9a52","strokeWidth":1.2,"size":30,"opacity":1},"encoding":{"x":{"field":"day","type":"quantitative","title":null,"scale":{"domain":[0,21.5]}},"y":{"field":"pct","type":"quantitative","title":null,"scale":{"domain":[0,100]}}}},
 {"data":{"name":"pvals"},"transform":[{"filter":"datum.g == 6"}],"mark":{"type":"text","text":"P","fontStyle":"italic","fontSize":15,"align":"right","baseline":"middle","color":"#333333"},"encoding":{"x":{"datum":13.05,"type":"quantitative","scale":{"domain":[0,21.5]}},"y":{"datum":16,"type":"quantitative","scale":{"domain":[0,100]}}}},
 {"data":{"name":"pvals"},"transform":[{"filter":"datum.g == 6"}],"mark":{"type":"text","text":"=","fontSize":15,"align":"left","baseline":"middle","color":"#333333"},"encoding":{"x":{"datum":13.4,"type":"quantitative","scale":{"domain":[0,21.5]}},"y":{"datum":16,"type":"quantitative","scale":{"domain":[0,100]}}}},
 {"data":{"name":"pvals"},"transform":[{"filter":"datum.g == 6"}],"mark":{"type":"text","fontSize":15,"align":"left","baseline":"middle","color":"#333333"},"encoding":{"x":{"datum":14.8,"type":"quantitative","scale":{"domain":[0,21.5]}},"y":{"datum":16,"type":"quantitative","scale":{"domain":[0,100]}},"text":{"field":"p","type":"nominal"}}}
]},
{"width":87,"height":191,"layer":[
 {"data":{"values":[{}]},"mark":{"type":"rule","color":"#a0a0a0","strokeWidth":1,"strokeDash":[1.5,1.5]},"encoding":{"x":{"datum":0,"type":"quantitative","scale":{"domain":[0,87]},"axis":null},"x2":{"datum":321},"y":{"datum":165,"type":"quantitative","scale":{"domain":[0,191],"reverse":true},"axis":null}}},
 {"data":{"values":[{}]},"mark":{"type":"rule","color":"#a8a8a8","strokeWidth":4.5},"encoding":{"x":{"datum":45,"type":"quantitative","scale":{"domain":[0,87]},"axis":null},"y":{"datum":0,"type":"quantitative","scale":{"domain":[0,191],"reverse":true},"axis":null},"y2":{"datum":191}}}
]},
{"width":196,"height":130,"layer":[
 {"data":{"values":[{}]},"mark":{"type":"rule","color":"#555555","strokeWidth":1,"strokeDash":[1.5,1.5]},"encoding":{"x":{"datum":0,"type":"quantitative","scale":{"domain":[0,21.5]},"axis":{"title":null,"values":[0,3,6,9,12,15,18,21],"tickCount":30,"labels":false,"tickSize":4,"labelOverlap":false}},"x2":{"datum":21.5},"y":{"datum":0,"type":"quantitative","scale":{"domain":[-10,15]},"axis":{"title":null,"values":[-10,-5,0,5,10,15],"tickCount":30,"labelExpr":"'' + datum.value","labelOverlap":false}}}},
 {"data":{"name":"weight"},"transform":[{"filter":"datum.g == 6 && datum.sem > 0"}],"mark":{"type":"errorbar","color":"#98cba2","thickness":1,"ticks":{"size":5,"color":"#98cba2"}},"encoding":{"x":{"field":"day","type":"quantitative","title":null,"scale":{"domain":[0,21.5]}},"y":{"field":"mean","type":"quantitative","title":null,"scale":{"domain":[-10,15]}},"yError":{"field":"sem"}}},
 {"data":{"name":"weight"},"transform":[{"filter":"datum.g == 6"}],"mark":{"type":"line","color":"#3d9a52","strokeWidth":1.3,"point":{"filled":true,"size":5,"color":"#3d9a52","opacity":1}},"encoding":{"x":{"field":"day","type":"quantitative","title":null,"scale":{"domain":[0,21.5]}},"y":{"field":"mean","type":"quantitative","title":null,"scale":{"domain":[-10,15]}}}}
]},

{"width":153,"height":197,"layer":[
 {"data":{"values":[{}]},"mark":{"type":"rule","color":"#a0a0a0","strokeWidth":1,"strokeDash":[1.5,1.5]},"encoding":{"x":{"datum":0,"type":"quantitative","scale":{"domain":[0,153]},"axis":null},"x2":{"datum":349},"y":{"datum":167,"type":"quantitative","scale":{"domain":[0,197],"reverse":true},"axis":null}}},
 {"data":{"values":[{}]},"mark":{"type":"rule","color":"#a8a8a8","strokeWidth":4.5},"encoding":{"x":{"datum":113,"type":"quantitative","scale":{"domain":[0,153]},"axis":null},"y":{"datum":0,"type":"quantitative","scale":{"domain":[0,197],"reverse":true},"axis":null},"y2":{"datum":197}}},
 {"data":{"name":"labels"},"transform":[{"filter":"datum.g == 7"}],"mark":{"type":"text","fontSize":19,"fontWeight":"bold","lineBreak":"\n","lineHeight":24,"align":"center","baseline":"middle","color":"#000"},"encoding":{"x":{"datum":64,"type":"quantitative","scale":{"domain":[0,153]},"axis":null},"y":{"datum":51,"type":"quantitative","scale":{"domain":[0,197],"reverse":true},"axis":null},"text":{"field":"label","type":"nominal"}}}
]},
{"width":196,"height":130,"layer":[
 {"data":{"name":"survival"},"transform":[{"filter":"datum.g == 7"}],"mark":{"type":"line","interpolate":"step-after","color":"#f3a13a","strokeWidth":1.3},"encoding":{"x":{"field":"day","type":"quantitative","scale":{"domain":[0,21.5]},"axis":{"title":null,"values":[0,3,6,9,12,15,18,21],"tickCount":30,"labels":false,"tickSize":4,"labelOverlap":false}},"y":{"field":"pct","type":"quantitative","scale":{"domain":[0,100]},"axis":{"title":null,"values":[0,20,40,60,80,100],"tickCount":30,"labelOverlap":false}}}},
 {"data":{"name":"survival"},"transform":[{"filter":"datum.g == 7 && datum.day > 0"}],"mark":{"type":"point","shape":"diamond","filled":true,"fill":"#f8c98a","stroke":"#f3a13a","strokeWidth":1.2,"size":34,"opacity":1},"encoding":{"x":{"field":"day","type":"quantitative","title":null,"scale":{"domain":[0,21.5]}},"y":{"field":"pct","type":"quantitative","title":null,"scale":{"domain":[0,100]}}}},
 {"data":{"name":"pvals"},"transform":[{"filter":"datum.g == 7"}],"mark":{"type":"text","text":"P","fontStyle":"italic","fontSize":15,"align":"right","baseline":"middle","color":"#333333"},"encoding":{"x":{"datum":13.05,"type":"quantitative","scale":{"domain":[0,21.5]}},"y":{"datum":16,"type":"quantitative","scale":{"domain":[0,100]}}}},
 {"data":{"name":"pvals"},"transform":[{"filter":"datum.g == 7"}],"mark":{"type":"text","text":"=","fontSize":15,"align":"left","baseline":"middle","color":"#333333"},"encoding":{"x":{"datum":13.4,"type":"quantitative","scale":{"domain":[0,21.5]}},"y":{"datum":16,"type":"quantitative","scale":{"domain":[0,100]}}}},
 {"data":{"name":"pvals"},"transform":[{"filter":"datum.g == 7"}],"mark":{"type":"text","fontSize":15,"align":"left","baseline":"middle","color":"#333333"},"encoding":{"x":{"datum":14.8,"type":"quantitative","scale":{"domain":[0,21.5]}},"y":{"datum":16,"type":"quantitative","scale":{"domain":[0,100]}},"text":{"field":"p","type":"nominal"}}}
]},
{"width":87,"height":197,"layer":[
 {"data":{"values":[{}]},"mark":{"type":"rule","color":"#a0a0a0","strokeWidth":1,"strokeDash":[1.5,1.5]},"encoding":{"x":{"datum":0,"type":"quantitative","scale":{"domain":[0,87]},"axis":null},"x2":{"datum":321},"y":{"datum":167,"type":"quantitative","scale":{"domain":[0,197],"reverse":true},"axis":null}}},
 {"data":{"values":[{}]},"mark":{"type":"rule","color":"#a8a8a8","strokeWidth":4.5},"encoding":{"x":{"datum":45,"type":"quantitative","scale":{"domain":[0,87]},"axis":null},"y":{"datum":0,"type":"quantitative","scale":{"domain":[0,197],"reverse":true},"axis":null},"y2":{"datum":197}}}
]},
{"width":196,"height":130,"layer":[
 {"data":{"values":[{}]},"mark":{"type":"rule","color":"#555555","strokeWidth":1,"strokeDash":[1.5,1.5]},"encoding":{"x":{"datum":0,"type":"quantitative","scale":{"domain":[0,21.5]},"axis":{"title":null,"values":[0,3,6,9,12,15,18,21],"tickCount":30,"labels":false,"tickSize":4,"labelOverlap":false}},"x2":{"datum":21.5},"y":{"datum":0,"type":"quantitative","scale":{"domain":[-10,15]},"axis":{"title":null,"values":[-10,-5,0,5,10,15],"tickCount":30,"labelExpr":"'' + datum.value","labelOverlap":false}}}},
 {"data":{"name":"weight"},"transform":[{"filter":"datum.g == 7 && datum.sem > 0"}],"mark":{"type":"errorbar","color":"#f8cb8e","thickness":1,"ticks":{"size":5,"color":"#f8cb8e"}},"encoding":{"x":{"field":"day","type":"quantitative","title":null,"scale":{"domain":[0,21.5]}},"y":{"field":"mean","type":"quantitative","title":null,"scale":{"domain":[-10,15]}},"yError":{"field":"sem"}}},
 {"data":{"name":"weight"},"transform":[{"filter":"datum.g == 7"}],"mark":{"type":"line","color":"#f3a13a","strokeWidth":1.3,"point":{"filled":true,"size":5,"color":"#f3a13a","opacity":1}},"encoding":{"x":{"field":"day","type":"quantitative","title":null,"scale":{"domain":[0,21.5]}},"y":{"field":"mean","type":"quantitative","title":null,"scale":{"domain":[-10,15]}}}}
]},

{"width":153,"height":197,"layer":[
 {"data":{"values":[{}]},"mark":{"type":"rule","color":"#a8a8a8","strokeWidth":4.5},"encoding":{"x":{"datum":113,"type":"quantitative","scale":{"domain":[0,153]},"axis":null},"y":{"datum":0,"type":"quantitative","scale":{"domain":[0,197],"reverse":true},"axis":null},"y2":{"datum":132}}},
 {"data":{"name":"labels"},"transform":[{"filter":"datum.g == 8"}],"mark":{"type":"text","fontSize":19,"fontWeight":"bold","lineBreak":"\n","lineHeight":24,"align":"center","baseline":"middle","color":"#000"},"encoding":{"x":{"datum":64,"type":"quantitative","scale":{"domain":[0,153]},"axis":null},"y":{"datum":52,"type":"quantitative","scale":{"domain":[0,197],"reverse":true},"axis":null},"text":{"field":"label","type":"nominal"}}}
]},
{"width":196,"height":130,"layer":[
 {"data":{"name":"survival"},"transform":[{"filter":"datum.g == 8"}],"mark":{"type":"line","interpolate":"step-after","color":"#6b55a8","strokeWidth":1.3},"encoding":{"x":{"field":"day","type":"quantitative","scale":{"domain":[0,21.5]},"axis":{"title":null,"values":[0,3,6,9,12,15,18,21],"tickCount":30,"labels":true,"tickSize":4,"labelPadding":2,"labelOverlap":false}},"y":{"field":"pct","type":"quantitative","scale":{"domain":[0,100]},"axis":{"title":null,"values":[0,20,40,60,80,100],"tickCount":30,"labelOverlap":false}}}},
 {"data":{"name":"survival"},"transform":[{"filter":"datum.g == 8 && datum.day > 0"}],"mark":{"type":"point","shape":"circle","filled":true,"fill":"#b9acdc","stroke":"#6b55a8","strokeWidth":1.2,"size":30,"opacity":1},"encoding":{"x":{"field":"day","type":"quantitative","title":null,"scale":{"domain":[0,21.5]}},"y":{"field":"pct","type":"quantitative","title":null,"scale":{"domain":[0,100]}}}},
 {"data":{"name":"pvals"},"transform":[{"filter":"datum.g == 8"}],"mark":{"type":"text","text":"P","fontStyle":"italic","fontSize":15,"align":"right","baseline":"middle","color":"#333333"},"encoding":{"x":{"datum":13.05,"type":"quantitative","scale":{"domain":[0,21.5]}},"y":{"datum":16,"type":"quantitative","scale":{"domain":[0,100]}}}},
 {"data":{"name":"pvals"},"transform":[{"filter":"datum.g == 8"}],"mark":{"type":"text","text":"=","fontSize":15,"align":"left","baseline":"middle","color":"#333333"},"encoding":{"x":{"datum":13.4,"type":"quantitative","scale":{"domain":[0,21.5]}},"y":{"datum":16,"type":"quantitative","scale":{"domain":[0,100]}}}},
 {"data":{"name":"pvals"},"transform":[{"filter":"datum.g == 8"}],"mark":{"type":"text","fontSize":15,"align":"left","baseline":"middle","color":"#333333"},"encoding":{"x":{"datum":14.8,"type":"quantitative","scale":{"domain":[0,21.5]}},"y":{"datum":16,"type":"quantitative","scale":{"domain":[0,100]}},"text":{"field":"p","type":"nominal"}}}
]},
{"width":87,"height":197,"layer":[
 {"data":{"values":[{}]},"mark":{"type":"rule","color":"#a8a8a8","strokeWidth":4.5},"encoding":{"x":{"datum":45,"type":"quantitative","scale":{"domain":[0,87]},"axis":null},"y":{"datum":0,"type":"quantitative","scale":{"domain":[0,197],"reverse":true},"axis":null},"y2":{"datum":132}}},
 {"data":{"values":[{}]},"mark":{"type":"rule","color":"#a8a8a8","strokeWidth":4.5},"encoding":{"x":{"datum":-197,"type":"quantitative","scale":{"domain":[0,87]},"axis":null},"x2":{"datum":269},"y":{"datum":161,"type":"quantitative","scale":{"domain":[0,197],"reverse":true},"axis":null}}},
 {"data":{"values":[{}]},"mark":{"type":"point","shape":"M1,0L-1,-0.8L-1,0.8Z","size":441,"filled":true,"color":"#a8a8a8","opacity":1,"strokeWidth":0},"encoding":{"x":{"datum":277.5,"type":"quantitative","scale":{"domain":[0,87]},"axis":null},"y":{"datum":161,"type":"quantitative","scale":{"domain":[0,197],"reverse":true},"axis":null}}},
 {"data":{"values":[{}]},"mark":{"type":"text","text":"Days post-infection","fontSize":23,"fontWeight":"bold","align":"center","baseline":"middle","color":"#000"},"encoding":{"x":{"datum":47,"type":"quantitative","scale":{"domain":[0,87]},"axis":null},"y":{"datum":184,"type":"quantitative","scale":{"domain":[0,197],"reverse":true},"axis":null}}}
]},
{"width":196,"height":130,"layer":[
 {"data":{"values":[{}]},"mark":{"type":"rule","color":"#555555","strokeWidth":1,"strokeDash":[1.5,1.5]},"encoding":{"x":{"datum":0,"type":"quantitative","scale":{"domain":[0,21.5]},"axis":{"title":null,"values":[0,3,6,9,12,15,18,21],"tickCount":30,"labels":true,"tickSize":4,"labelPadding":2,"labelOverlap":false}},"x2":{"datum":21.5},"y":{"datum":0,"type":"quantitative","scale":{"domain":[-10,15]},"axis":{"title":null,"values":[-10,-5,0,5,10,15],"tickCount":30,"labelExpr":"'' + datum.value","labelOverlap":false}}}},
 {"data":{"name":"weight"},"transform":[{"filter":"datum.g == 8 && datum.sem > 0"}],"mark":{"type":"errorbar","color":"#ab9fd3","thickness":1,"ticks":{"size":5,"color":"#ab9fd3"}},"encoding":{"x":{"field":"day","type":"quantitative","title":null,"scale":{"domain":[0,21.5]}},"y":{"field":"mean","type":"quantitative","title":null,"scale":{"domain":[-10,15]}},"yError":{"field":"sem"}}},
 {"data":{"name":"weight"},"transform":[{"filter":"datum.g == 8"}],"mark":{"type":"line","color":"#6b55a8","strokeWidth":1.3,"point":{"filled":true,"size":5,"color":"#6b55a8","opacity":1}},"encoding":{"x":{"field":"day","type":"quantitative","title":null,"scale":{"domain":[0,21.5]}},"y":{"field":"mean","type":"quantitative","title":null,"scale":{"domain":[-10,15]}}}}
]}
]
}
